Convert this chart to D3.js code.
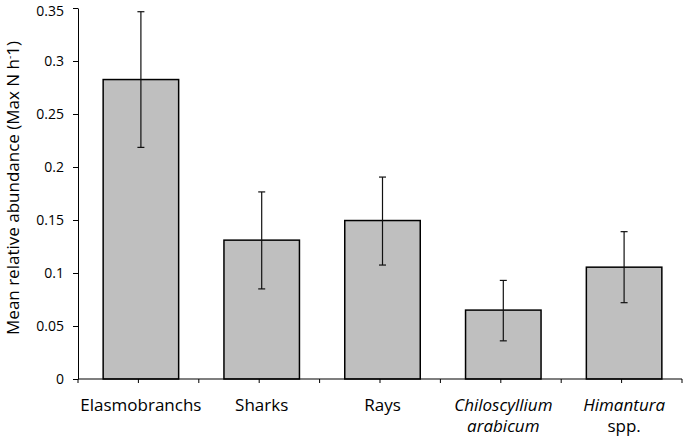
<!DOCTYPE html>
<html>
<head>
<meta charset="utf-8">
<script src="https://cdn.jsdelivr.net/npm/d3@7"></script>
<style>
  body { margin: 0; background: #fff; }
  text { font-family: "Open Sans", sans-serif; fill: #000; }
</style>
</head>
<body>
<svg id="chart" width="685" height="438"></svg>
<script>
// data
var categories = ["Elasmobranchs", "Sharks", "Rays", "Chiloscyllium arabicum", "Himantura spp."];
var means = [0.2825, 0.131, 0.1495, 0.065, 0.1055];
var errUpper = [0.3465, 0.1765, 0.1905, 0.093, 0.139];
var errLower = [0.2185, 0.085, 0.1075, 0.036, 0.072];
var yTicks = [0, 0.05, 0.1, 0.15, 0.2, 0.25, 0.3, 0.35];
// label lines, italic flag per line
var labelLines = [
	[["Elasmobranchs", false]],
	[["Sharks", false]],
	[["Rays", false]],
	[["Chiloscyllium", true], ["arabicum", true]],
	[["Himantura", true], ["spp.", false]]
];

var margin = { top: 8, right: 3, bottom: 59, left: 78 },
	width = 685 - margin.left - margin.right,
	height = 438 - margin.top - margin.bottom;

var svg = d3.select("#chart");
var g = svg.append("g").attr("transform", "translate(" + margin.left + "," + margin.top + ")");

var x = d3.scaleBand().domain(categories).range([0, width]).paddingInner(0.375).paddingOuter(0.1875);
var y = d3.scaleLinear().domain([0, 0.35]).range([height, 0]);
var step = x.step();
var barShift = 2.5;

// y axis
var yAxis = d3.axisLeft(y).tickValues(yTicks).tickSize(5).tickSizeOuter(0)
	.tickFormat(function(d) { return d === 0 ? "0" : d3.format("")(+d.toFixed(2)); });
var ya = g.append("g").call(yAxis);
ya.select(".domain").attr("stroke", "#000");
ya.selectAll(".tick line").attr("stroke", "#000");
ya.selectAll(".tick text").attr("x", -14)
	.attr("dy", function(d) { return d === 0.35 ? "0.5em" : "0.3em"; })
	.style("font-size", "14px").style("font-family", "'Open Sans', sans-serif");

// bars
g.selectAll("rect.bar").data(categories).enter().append("rect")
	.attr("class", "bar")
	.attr("x", function(d) { return x(d) + barShift; })
	.attr("y", function(d, i) { return y(means[i]); })
	.attr("width", x.bandwidth())
	.attr("height", function(d, i) { return height - y(means[i]); })
	.attr("fill", "#bfbfbf")
	.attr("stroke", "#000")
	.attr("stroke-width", 1.5);

// error bars
var eb = g.selectAll("g.err").data(categories).enter().append("g").attr("class", "err")
	.attr("transform", function(d) { return "translate(" + (x(d) + x.bandwidth() / 2 + barShift) + ",0)"; });
eb.append("line")
	.attr("y1", function(d, i) { return y(errUpper[i]); })
	.attr("y2", function(d, i) { return y(errLower[i]); })
	.attr("stroke", "#111").attr("stroke-width", 1.2);
eb.append("line").attr("x1", -3.5).attr("x2", 3.5)
	.attr("y1", function(d, i) { return y(errUpper[i]); })
	.attr("y2", function(d, i) { return y(errUpper[i]); })
	.attr("stroke", "#111").attr("stroke-width", 1.2);
eb.append("line").attr("x1", -3.5).attr("x2", 3.5)
	.attr("y1", function(d, i) { return y(errLower[i]); })
	.attr("y2", function(d, i) { return y(errLower[i]); })
	.attr("stroke", "#111").attr("stroke-width", 1.2);

// x axis line with ticks at every half category
g.append("line").attr("x1", 0).attr("x2", width).attr("y1", height).attr("y2", height)
	.attr("stroke", "#000").attr("stroke-width", 1.2);
var tickPos = d3.range(0, categories.length * 2 + 1).map(function(k) { return k * step / 2; });
g.selectAll("line.xtick").data(tickPos).enter().append("line")
	.attr("class", "xtick")
	.attr("x1", function(d) { return d; }).attr("x2", function(d) { return d; })
	.attr("y1", height).attr("y2", height + 4)
	.attr("stroke", "#000");

// x labels
var lab = g.selectAll("text.xlab").data(categories).enter().append("text")
	.attr("class", "xlab")
	.attr("text-anchor", "middle")
	.attr("transform", function(d) { return "translate(" + (x(d) + x.bandwidth() / 2 + barShift) + "," + (height + 32) + ")"; })
	.style("font-size", "17px");
lab.each(function(d, i) {
	var t = d3.select(this);
	labelLines[i].forEach(function(ln, j) {
		t.append("tspan").attr("x", 0).attr("dy", j === 0 ? 0 : 21)
			.style("font-style", ln[1] ? "italic" : "normal")
			.text(ln[0]);
	});
});

// y title
var yt = svg.append("text")
	.attr("transform", "translate(19," + (margin.top + 180) + ") rotate(-90)")
	.attr("text-anchor", "middle")
	.style("font-size", "17px");
yt.append("tspan").text("Mean relative abundance (Max N  h");
yt.append("tspan").attr("dy", -6).style("font-size", "10px").text("-");
yt.append("tspan").attr("dy", 6).text("1)");
</script>
</body>
</html>
